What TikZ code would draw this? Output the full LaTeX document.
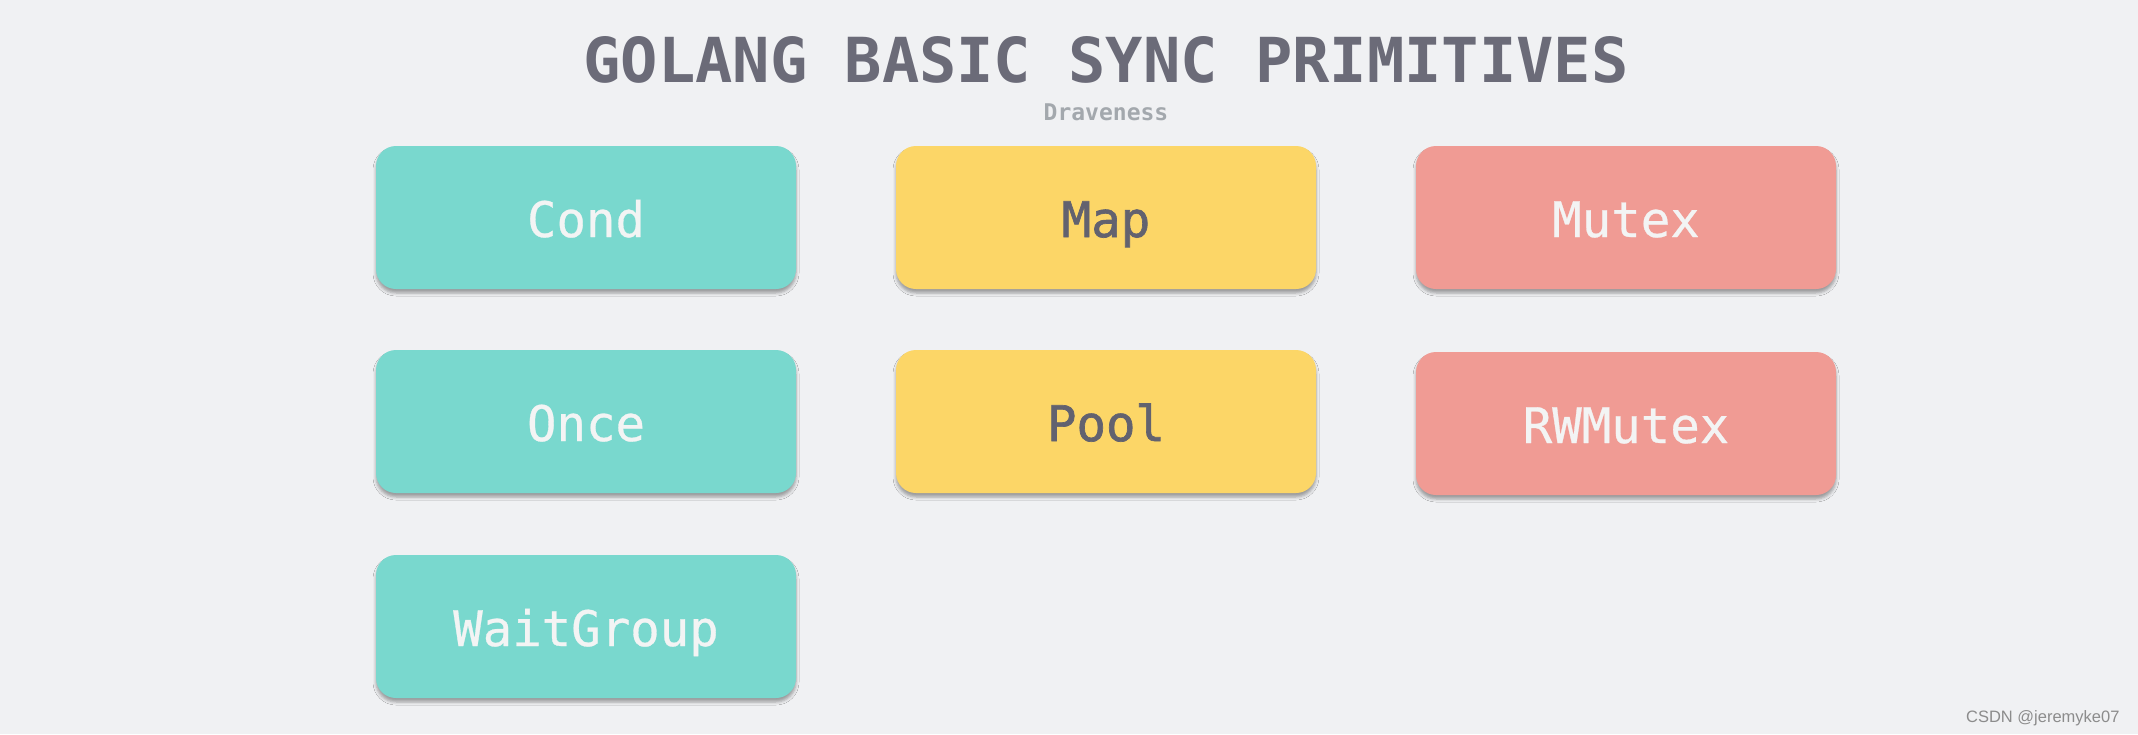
\documentclass[tikz,border=0pt]{standalone}
\usepackage{fontspec}
\setmonofont[FakeBold=0.6]{DejaVu Sans Mono}
\newfontfamily\monob{DejaVu Sans Mono Bold}
\newfontfamily\monosb[FakeBold=1.4]{DejaVu Sans Mono}
\newfontfamily\arialf{Liberation Sans}
\usetikzlibrary{shadows.blur}
\definecolor{bgc}{HTML}{F0F1F3}
\definecolor{tealc}{HTML}{79D8CE}
\definecolor{yelc}{HTML}{FCD667}
\definecolor{pinkc}{HTML}{F09B94}
\definecolor{titlec}{HTML}{6B6B78}
\definecolor{subc}{HTML}{A3A8AD}
\definecolor{darkt}{HTML}{62626F}
\definecolor{whitet}{HTML}{F3F4F4}
\tikzset{
  prim/.style={draw=none, rounded corners=20pt, minimum width=420pt, minimum height=143pt,
    inner sep=0pt, text height=40pt, text depth=1pt,
    font=\ttfamily\fontsize{49}{52}\selectfont,
    blur shadow={shadow xshift=0pt, shadow yshift=-4pt, shadow blur radius=3pt, shadow opacity=35}},
  tealbox/.style={prim, fill=tealc, text=whitet},
  yelbox/.style={prim, fill=yelc, text=darkt, font=\monosb\fontsize{49}{52}\selectfont},
  pinkbox/.style={prim, fill=pinkc, text=whitet},
}
\begin{document}
\begin{tikzpicture}[x=1pt,y=-1pt]
\fill[bgc] (0,0) rectangle (2138,734);
\useasboundingbox (0,0) rectangle (2138,734);
\node[font=\monob\fontsize{62}{66}\selectfont, text=titlec] (title) at (1106,60) {GOLANG BASIC SYNC PRIMITIVES};
\node[font=\monob\fontsize{23}{26}\selectfont, text=subc] (sub) at (1106,112) {Draveness};
\node[tealbox] (cond) at (586,217.5) {Cond};
\node[tealbox] (once) at (586,421.5) {Once};
\node[tealbox] (wg) at (586,626.5) {WaitGroup};
\node[yelbox] (map) at (1106,217.5) {Map};
\node[yelbox] (pool) at (1106,421.5) {Pool};
\node[pinkbox] (mutex) at (1626,217.5) {Mutex};
\node[pinkbox] (rwmutex) at (1626,423.5) {RWMutex};
\node[font=\arialf\fontsize{16.5}{18}\selectfont, text=black!45, anchor=east] (csdn) at (2123,718) {CSDN @jeremyke07};
\end{tikzpicture}
\end{document}
